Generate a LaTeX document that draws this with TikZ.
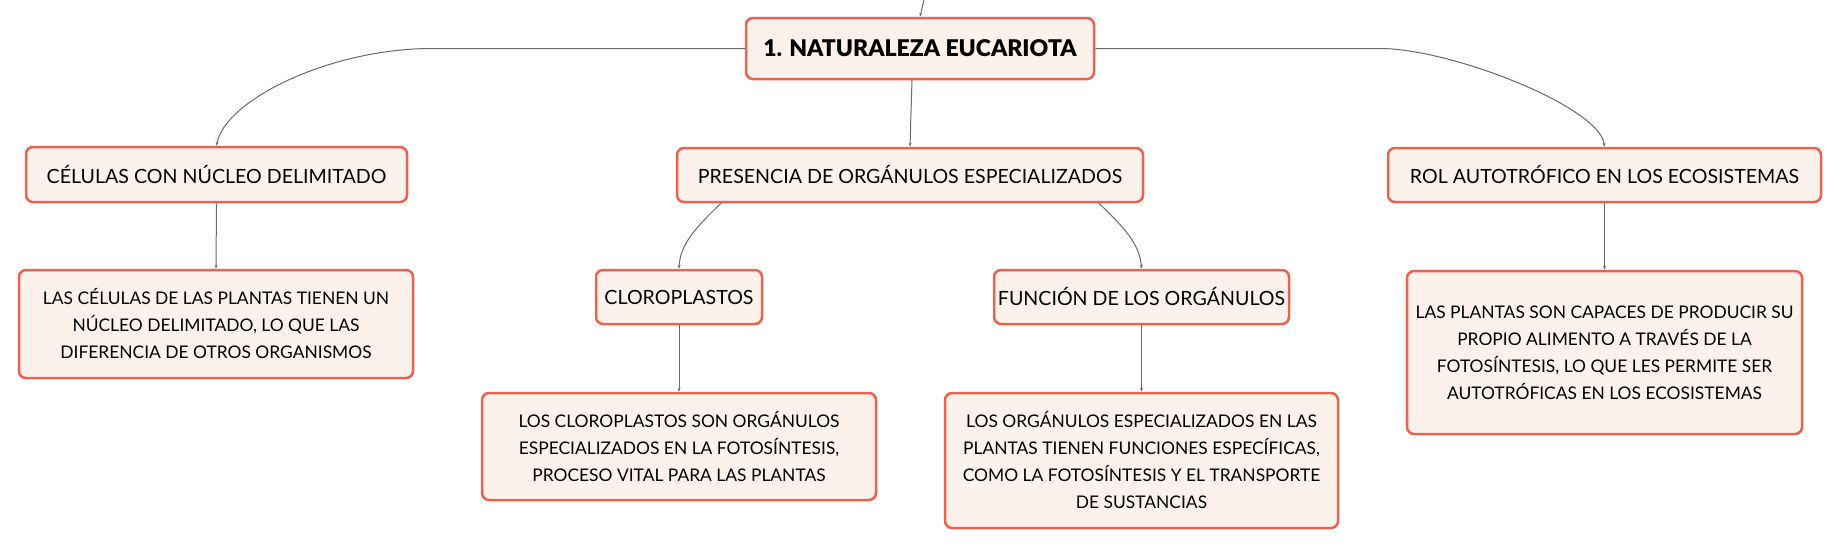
\documentclass[tikz,border=0pt]{standalone}
\usepackage{fontspec}
\setmainfont{Lato}
\newfontfamily\blackfont{Lato Black}
\usetikzlibrary{arrows.meta,calc}
\definecolor{boxline}{HTML}{EA6250}
\definecolor{boxfill}{HTML}{FDF1EC}
\definecolor{connline}{HTML}{6A6A6A}
\tikzset{
  box/.style={draw=boxline, fill=boxfill, line width=2.5pt, rounded corners=7pt,
    inner sep=0pt, align=center, text=black},
  rootbox/.style={box, font=\fontsize{23}{27}\selectfont\blackfont},
  midbox/.style={box, font=\fontsize{19.6}{24}\selectfont},
  leafbox/.style={box, font=\fontsize{17.4}{27}\selectfont},
  conn/.style={draw=connline, line width=1pt, -{Stealth[length=4pt,width=3pt]}}
}
\begin{document}
\begin{tikzpicture}[x=1pt,y=-1pt]
\useasboundingbox (0,0) rectangle (1841,549);
\node[rootbox, minimum width=348pt, minimum height=61pt] (root) at (920,48.5) {1. NATURALEZA EUCARIOTA};
\node[midbox, minimum width=381pt, minimum height=55pt] (n1) at (216.5,174.5) {CÉLULAS CON NÚCLEO DELIMITADO};
\node[midbox, minimum width=466pt, minimum height=54pt] (n2) at (910,175) {PRESENCIA DE ORGÁNULOS ESPECIALIZADOS};
\node[midbox, minimum width=433pt, minimum height=54pt] (n3) at (1604.5,175) {ROL AUTOTRÓFICO EN LOS ECOSISTEMAS};
\node[leafbox, minimum width=394pt, minimum height=108pt] (l1) at (216,324) {LAS CÉLULAS DE LAS PLANTAS TIENEN UN\\NÚCLEO DELIMITADO, LO QUE LAS\\DIFERENCIA DE OTROS ORGANISMOS};
\node[midbox, minimum width=166pt, minimum height=54pt] (cl) at (679,297) {CLOROPLASTOS};
\node[midbox, minimum width=295pt, minimum height=54pt] (fu) at (1141.5,297) {FUNCIÓN DE LOS ORGÁNULOS};
\node[leafbox, minimum width=395pt, minimum height=163pt] (l3) at (1604.5,352.5) {LAS PLANTAS SON CAPACES DE PRODUCIR SU\\PROPIO ALIMENTO A TRAVÉS DE LA\\FOTOSÍNTESIS, LO QUE LES PERMITE SER\\AUTOTRÓFICAS EN LOS ECOSISTEMAS};
\node[leafbox, minimum width=394pt, minimum height=107pt] (lc) at (679,446.5) {LOS CLOROPLASTOS SON ORGÁNULOS\\ESPECIALIZADOS EN LA FOTOSÍNTESIS,\\PROCESO VITAL PARA LAS PLANTAS};
\node[leafbox, minimum width=393pt, minimum height=135pt] (lf) at (1141.5,460.5) {LOS ORGÁNULOS ESPECIALIZADOS EN LAS\\PLANTAS TIENEN FUNCIONES ESPECÍFICAS,\\COMO LA FOTOSÍNTESIS Y EL TRANSPORTE\\DE SUSTANCIAS};
\coordinate (top) at (924,0);
\draw[conn] (top) -- (root.north);
\draw[conn] (root.west) -- (432,48.5) .. controls (330,48.5) and (225,100) .. (n1.north);
\draw[conn] (root.east) -- (1380,48.5) .. controls (1451,48.5) and (1600,107) .. (n3.north);
\draw[conn] ($(root.south)+(-8,0)$) -- (n2.north);
\draw[conn] ($(n2.south west)!0.0966!(n2.south east)$) .. controls (695,228) and (680,245) .. (cl.north);
\draw[conn] ($(n2.south west)!0.903!(n2.south east)$) .. controls (1125,228) and (1140,245) .. (fu.north);
\draw[conn] (n1.south) -- (l1.north);
\draw[conn] (n3.south) -- (l3.north);
\draw[conn] (cl.south) -- (lc.north);
\draw[conn] (fu.south) -- (lf.north);
\end{tikzpicture}
\end{document}
